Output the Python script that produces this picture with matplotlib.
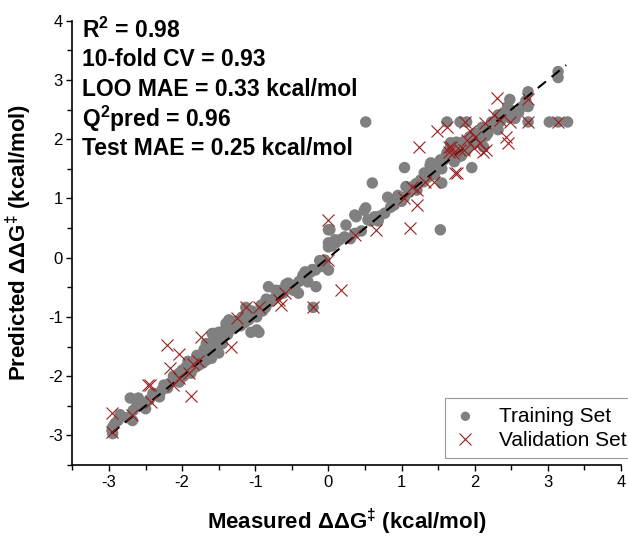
import numpy as np
import matplotlib
matplotlib.use("Agg")
import matplotlib.pyplot as plt
from matplotlib.ticker import MultipleLocator

plt.rcParams['font.family'] = ['Liberation Sans', 'DejaVu Sans']
plt.rcParams['mathtext.fontset'] = 'custom'
plt.rcParams['mathtext.rm'] = 'Liberation Sans'
plt.rcParams['mathtext.bf'] = 'Liberation Sans:bold'
plt.rcParams['mathtext.it'] = 'Liberation Sans:italic'
plt.rcParams['axes.unicode_minus'] = False

# training set (measured, predicted) in kcal/mol
train_x = [-2.95, -2.95, -2.88, -2.92, -2.96, -2.71, -2.60, -2.68, -2.67, -2.54, -2.50,
           -2.40, -2.28, -2.31, -2.35, -2.17, -2.08, -2.04, -2.04, -1.95, -1.90, -1.90,
           -1.81, -1.77, -1.67, -1.67, -1.59, -1.54, -1.50, -1.59, -1.40, -1.45,
           -1.85, -1.75, -1.70, -1.62, -1.55, -1.50, -1.45, -1.80, -1.72, -1.65, -1.60,
           -1.67, -1.56, -1.50, -1.36, -1.22, -1.27, -1.13, -1.09, -0.98, -0.98, -0.86,
           -0.82, -0.72, -0.68, -0.59, -0.55, -0.45, -0.41, -0.32, -0.28, -0.17, -0.18,
           0.00, -0.05, 0.00, 0.02, -0.21, -1.67,
           -1.30, -1.20, -1.15, -1.06, -0.95, -1.00, -0.90, -0.80, -0.75, -0.65, -0.50,
           -0.40, -0.35, -0.25, -0.10, -0.05,
           0.00, 0.00, 0.09, 0.22, 0.36, 0.38, 0.49, 0.54, 0.63, 0.77, 0.81, 0.90, 0.94,
           1.04, 1.06, 1.21, 1.26, 1.31, 1.44, 1.52, 1.55, 1.39, 1.65, 1.67, 1.04, 0.60,
           0.51, 1.53, 1.80, 1.85, 0.51, 0.24, 0.36, 0.15, 0.70, 1.10, 1.35, 1.45, 1.50, 1.40,
           3.14, 3.14, 2.73, 2.73, 2.73, 3.02, 3.27, 3.14, 2.48, 2.48, 2.48, 2.41, 2.32,
           2.23, 1.89, 1.80, 1.62, 1.96, 2.09, 2.20, 2.03, 1.93, 1.85, 1.76, 1.67, 1.62,
           1.53, 2.12, 2.32, 2.00, 2.15, 2.25, 1.95, 1.70, 1.90, 2.05,
           -2.85, -2.75, -2.62, -2.45, -2.25, -2.20, -2.12, -2.00, -1.98, -1.92, -1.88,
           -1.82, -1.78, -1.70, -1.68, -1.63, -1.58, -1.52, -1.48, -1.42, -1.38, -1.33,
           -1.28, -1.18, -1.10, -1.05, -0.92, -0.85, -0.70, -0.62, -0.58, -0.48, -0.30,
           -0.22, -0.12, 0.05, 0.10, 0.30, 0.45, 0.58, 0.68, 0.85, 0.95, 1.00, 1.15,
           1.20, 1.30, 1.48, 1.55, 1.58, 1.60, 1.72, 1.75, 1.78, 1.82, 1.88, 1.92, 1.98,
           2.02, 2.08, 2.10, 2.18, 2.28, 2.35, 2.40, 2.45, 2.50, 2.55, 2.60, 2.65, 2.70,
           1.72, 1.82, 1.98]
train_y = [-2.97, -2.86, -2.75, -2.80, -2.92, -2.37, -2.37, -2.75, -2.58, -2.46, -2.55,
           -2.29, -2.24, -2.35, -2.30, -2.12, -2.03, -1.95, -2.10, -1.85, -1.79, -1.87,
           -1.73, -1.65, -1.59, -1.73, -1.51, -1.39, -1.61, -1.28, -1.11, -1.31,
           -1.80, -1.70, -1.62, -1.55, -1.48, -1.40, -1.45, -1.65, -1.78, -1.65, -1.70,
           -1.45, -1.28, -1.26, -1.05, -1.05, -1.17, -0.84, -1.05, -1.22, -1.00, -0.84,
           -0.49, -0.55, -0.63, -0.52, -0.43, -0.46, -0.60, -0.24, -0.41, -0.49, -0.21,
           -0.21, -0.04, 0.25, 0.47, -0.84, -1.56,
           -1.20, -1.15, -1.10, -1.26, -1.26, -0.95, -0.90, -0.75, -0.70, -0.55, -0.50,
           -0.40, -0.30, -0.25, -0.15, -0.10,
           0.18, 0.47, 0.30, 0.35, 0.41, 0.69, 0.80, 0.64, 0.69, 0.75, 1.02, 0.89, 0.98,
           1.02, 1.20, 1.14, 1.31, 1.43, 1.48, 1.60, 1.26, 1.56, 1.71, 1.87, 1.52, 1.26,
           0.84, 0.47, 1.82, 1.94, 2.29, 0.55, 0.72, 0.30, 0.70, 1.10, 1.35, 1.40, 1.50, 1.60,
           3.14, 3.04, 2.80, 2.55, 2.29, 2.29, 2.29, 2.29, 2.67, 2.50, 2.36, 2.38, 2.41,
           2.29, 2.29, 2.29, 2.29, 1.52, 2.13, 2.19, 1.99, 2.04, 1.96, 1.87, 1.94, 1.77,
           1.65, 1.87, 2.16, 2.10, 2.05, 2.25, 1.90, 1.80, 1.85, 1.95,
           -2.65, -2.70, -2.50, -2.40, -2.15, -2.20, -2.00, -1.90, -2.00, -1.75, -1.95,
           -1.85, -1.82, -1.55, -1.68, -1.45, -1.62, -1.52, -1.35, -1.22, -1.30, -1.15,
           -1.08, -1.00, -0.95, -0.90, -0.80, -0.70, -0.65, -0.60, -0.45, -0.55, -0.35,
           -0.20, -0.05, 0.20, 0.25, 0.32, 0.45, 0.62, 0.62, 0.85, 1.05, 0.95, 1.20,
           1.25, 1.28, 1.55, 1.50, 1.65, 1.70, 1.75, 1.95, 1.70, 1.90, 1.80, 1.95, 2.00,
           2.05, 2.00, 2.20, 2.10, 2.30, 2.30, 2.45, 2.55, 2.45, 2.35, 2.45, 2.55, 2.65,
           1.62, 1.72, 1.92]

# validation set
val_x = [-2.96, -2.96, -2.69, -2.47, -2.44, -2.42, -2.21, -2.04, -2.17, -2.13, -2.04,
         -1.90, -1.88, -1.74, -1.85, -1.78, -1.33,
         -1.25, -1.13, -0.95, -0.68, -0.65, -0.59, -0.21, 0.17, 0.00,
         0.00, 0.36, 0.65, 1.04, 1.14, 1.21, 1.21, 1.32, 1.44, 1.12, 1.24, 1.65, 1.71,
         1.76, 1.85,
         2.30, 2.73, 2.73, 3.14, 1.87, 1.62, 2.26, 2.34, 2.48, 2.14, 2.43, 2.46, 1.93,
         2.00, 1.89, 2.07, 1.67, 1.65, 2.16, 2.12, 1.80, 1.99, 1.73, 1.49]
val_y = [-2.63, -2.95, -2.66, -2.15, -2.15, -2.44, -1.48, -1.62, -1.87, -2.15, -2.04,
         -1.94, -2.33, -1.34, -1.80, -1.75, -1.51,
         -1.02, -0.84, -0.84, -0.72, -0.80, -0.60, -0.84, -0.55, -0.04,
         0.64, 0.38, 0.47, 1.00, 1.20, 1.14, 0.89, 1.28, 1.28, 0.50, 1.87, 1.87, 1.77,
         1.43, 1.82,
         2.70, 2.67, 2.29, 2.29, 2.29, 2.21, 2.41, 2.33, 2.29, 2.27, 2.03, 1.94, 2.13,
         2.04, 1.99, 1.94, 1.87, 1.79, 1.82, 1.79, 1.82, 1.85, 1.43, 2.13]

line_x = [-2.97, 3.25]

stats = [r"R$^{\mathbf{2}}$ = 0.98",
         "10-fold CV = 0.93",
         "LOO MAE = 0.33 kcal/mol",
         r"Q$^{\mathbf{2}}$pred = 0.96",
         "Test MAE = 0.25 kcal/mol"]

fig = plt.figure(figsize=(6.28, 5.37), dpi=100)
ax = fig.add_axes([0.1154, 0.1341, 0.8734, 0.8274])

ax.scatter(train_x, train_y, s=68, color='#808080', edgecolors='none',
           zorder=2, label='Training Set')
ax.plot(line_x, line_x, color='black', lw=1.5, dashes=(5, 3.5), zorder=3)
ax.plot(val_x, val_y, ls='none', marker='x', ms=9, mew=0.8, color='#9a1f1f',
        zorder=4, label='Validation Set')

ax.set_xlim(-3.5, 4)
ax.set_ylim(-3.5, 4)
ax.xaxis.set_major_locator(MultipleLocator(1))
ax.yaxis.set_major_locator(MultipleLocator(1))
ax.xaxis.set_minor_locator(MultipleLocator(0.5))
ax.yaxis.set_minor_locator(MultipleLocator(0.5))
ax.tick_params(which='major', direction='out', length=4, width=1.0,
               labelsize=12, pad=3)
ax.tick_params(which='minor', direction='out', length=3.5, width=1.0)
ax.spines['top'].set_visible(False)
ax.spines['right'].set_visible(False)
ax.spines['left'].set_linewidth(1.2)
ax.spines['bottom'].set_linewidth(1.2)

ax.set_xlabel(r"Measured ΔΔG$^{\mathbf{‡}}$ (kcal/mol)", fontsize=16,
              fontweight='bold', labelpad=12)
ax.set_ylabel(r"Predicted ΔΔG$^{\mathbf{‡}}$ (kcal/mol)", fontsize=16,
              fontweight='bold', labelpad=10)

for i, s in enumerate(stats):
    ax.text(0.018, 0.978 - i * 0.0665, s, transform=ax.transAxes, fontsize=16.5,
            fontweight='bold', va='center', ha='left')

leg = ax.legend(loc='lower right', bbox_to_anchor=(1.025, 0.015), fontsize=15,
                frameon=True, fancybox=False, edgecolor='#808080',
                scatterpoints=1, handlelength=1.2, handletextpad=1.0,
                borderpad=0.4, labelspacing=0.25, borderaxespad=0)
leg.get_frame().set_linewidth(0.8)
leg.legend_handles[0].set_sizes([45])

fig.savefig("out.png", dpi=100)
